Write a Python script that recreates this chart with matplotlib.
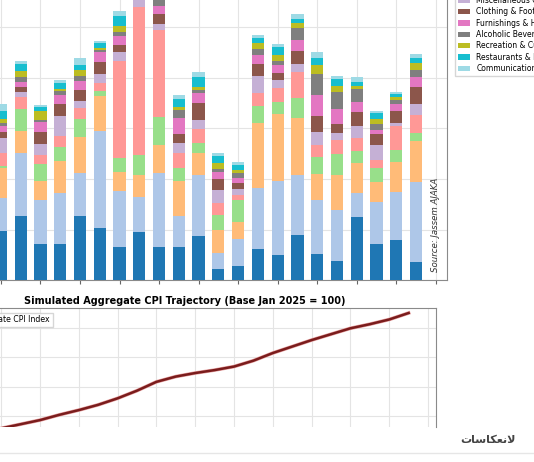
import numpy as np
import matplotlib.pyplot as plt
import matplotlib.patheffects as pe
from matplotlib.lines import Line2D

## categories (stack order, bottom -> top)
categories = ["Food & Non-Alcoholic Beverages", "Housing & Utilities", "Transport", "Health", "Education",
              "Miscellaneous Goods & Services", "Clothing & Footwear", "Furnishings & Household Goods",
              "Alcoholic Beverages & Tobacco", "Recreation & Culture", "Restaurants & Hotels", "Communication"]

## monthly contributions per category (22 visible months)
food = [0.49, 0.63, 0.36, 0.36, 0.63, 0.51, 0.33, 0.48, 0.33, 0.33, 0.44, 0.11, 0.14, 0.31, 0.25, 0.45, 0.26, 0.19, 0.62, 0.36, 0.40, 0.18]
housing = [0.32, 0.63, 0.43, 0.50, 0.43, 0.97, 0.55, 0.34, 0.73, 0.30, 0.60, 0.16, 0.27, 0.60, 0.73, 0.59, 0.53, 0.50, 0.24, 0.41, 0.47, 0.79]
transport = [0.30, 0.22, 0.19, 0.32, 0.36, 0.34, 0.19, 0.22, 0.28, 0.35, 0.22, 0.23, 0.16, 0.64, 0.66, 0.56, 0.26, 0.35, 0.30, 0.20, 0.30, 0.41]
health = [0.02, 0.21, 0.17, 0.14, 0.17, 0.05, 0.14, 0.20, 0.27, 0.13, 0.10, 0.14, 0.22, 0.17, 0.12, 0.20, 0.17, 0.21, 0.12, 0.14, 0.12, 0.08]
education = [0.13, 0.12, 0.09, 0.11, 0.11, 0.08, 0.96, 1.46, 0.87, 0.15, 0.14, 0.12, 0.05, 0.13, 0.14, 0.26, 0.12, 0.14, 0.13, 0.08, 0.23, 0.17]
misc = [0.15, 0.05, 0.11, 0.19, 0.07, 0.09, 0.09, 0.08, 0.05, 0.10, 0.08, 0.13, 0.06, 0.17, 0.08, 0.08, 0.13, 0.07, 0.11, 0.15, 0.03, 0.11]
clothing = [0.06, 0.05, 0.12, 0.12, 0.11, 0.12, 0.07, 0.07, 0.10, 0.09, 0.17, 0.11, 0.06, 0.12, 0.07, 0.13, 0.15, 0.08, 0.14, 0.11, 0.12, 0.17]
furnishings = [0.05, 0.05, 0.09, 0.09, 0.09, 0.10, 0.09, 0.07, 0.08, 0.15, 0.10, 0.07, 0.05, 0.09, 0.08, 0.11, 0.21, 0.15, 0.10, 0.04, 0.07, 0.10]
alcohol = [0.03, 0.05, 0.02, 0.04, 0.05, 0.02, 0.04, 0.05, 0.07, 0.08, 0.03, 0.03, 0.05, 0.06, 0.04, 0.12, 0.21, 0.17, 0.13, 0.05, 0.04, 0.07]
recreation = [0.04, 0.06, 0.09, 0.02, 0.06, 0.02, 0.05, 0.04, 0.04, 0.03, 0.03, 0.06, 0.03, 0.06, 0.06, 0.04, 0.09, 0.06, 0.03, 0.05, 0.03, 0.07]
restaurants = [0.08, 0.07, 0.04, 0.06, 0.05, 0.05, 0.10, 0.08, 0.07, 0.08, 0.10, 0.07, 0.05, 0.05, 0.08, 0.04, 0.07, 0.07, 0.04, 0.06, 0.03, 0.05]
communication = [0.07, 0.03, 0.02, 0.03, 0.07, 0.02, 0.05, 0.04, 0.03, 0.04, 0.05, 0.03, 0.03, 0.03, 0.03, 0.05, 0.06, 0.03, 0.05, 0.02, 0.02, 0.04]

## aggregate CPI index
cpi = [102.9, 103.6, 104.3, 105.2, 106.0, 106.9, 108.0, 109.3, 110.8, 111.7, 112.3,
       112.8, 113.4, 114.4, 115.7, 116.8, 117.9, 118.9, 119.9, 120.6, 121.4, 122.5]

series = [food, housing, transport, health, education, misc, clothing,
          furnishings, alcohol, recreation, restaurants, communication]

W, H = 534, 462
fig = plt.figure(figsize=(W / 100, H / 100), dpi=100)


def px_axes(left, top, right, bottom):
    # pixel box (from top-left) -> figure fraction
    return fig.add_axes([left / W, 1 - bottom / H, (right - left) / W, (bottom - top) / H])


colors = plt.get_cmap('tab20')(np.linspace(0, 1, len(series)))
x = np.arange(len(food))

# --- stacked bars
ax = px_axes(-10.9, -23, 447, 280)
bottom = np.zeros(len(food))
for vals, name, c in zip(series, categories, colors):
    ax.bar(x, vals, width=0.62, bottom=bottom, color=c, label=name, zorder=3)
    bottom += np.array(vals)
ax.set_xlim(-0.6, 22.57)
ax.set_ylim(0, 3.0)
ax.set_xticks(np.arange(0, 23, 2))
ax.set_yticks(np.arange(0, 3.01, 0.5))
ax.grid(True, color='#e4e4e4', linewidth=0.8, zorder=0)
ax.tick_params(axis='x', length=3, color='#666666', labelbottom=False)
ax.tick_params(axis='y', left=False, labelleft=False)
for s in ax.spines.values():
    s.set_color('#8a8a8a')
ax.text(0.974, 0.025, 'Source: Jassem AJAKA', transform=ax.transAxes, rotation=90,
        ha='center', va='bottom', fontsize=6.2, style='italic', color='#333333')
ax.legend(loc='lower left', bbox_to_anchor=(455 / W, 1 - 76 / H), bbox_transform=fig.transFigure,
          fontsize=5.5, labelspacing=0.3, handlelength=1.6, borderaxespad=0,
          frameon=True, edgecolor='#cccccc', fancybox=False)

# --- aggregate line
ax2 = px_axes(-66, 308.3, 436, 427)
ax2.plot(x, cpi, color='#7a1c1c', linewidth=1.8, label='Aggregate CPI Index',
         path_effects=[pe.Stroke(linewidth=2.6, foreground='#e8a3a3'), pe.Normal()])
ax2.set_xlim(-3.46, 22.41)
ax2.set_ylim(103.13, 123.3)
ax2.set_xticks(np.arange(0, 23, 2))
ax2.set_yticks([105, 110, 115, 120])
ax2.grid(True, color='#e4e4e4', linewidth=0.8)
ax2.tick_params(bottom=False, labelbottom=False, left=False, labelleft=False)
ax2.spines['bottom'].set_visible(False)
for s in ax2.spines.values():
    s.set_color('#8a8a8a')
ax2.set_title('Simulated Aggregate CPI Trajectory (Base Jan 2025 = 100)',
              fontsize=7, fontweight='bold', pad=3)
ax2.legend(loc='upper right', bbox_to_anchor=(52.7 / W, 1 - 312.7 / H), bbox_transform=fig.transFigure,
           fontsize=5.6, borderpad=0.35, borderaxespad=0, edgecolor='#cccccc', fancybox=False)

# page caption below the cropped chart (Arabic shaped by hand, visual order)
fig.text(516 / W, 1 - 440 / H, '\ufe95\ufe8e\ufeb3\ufe8e\ufedc\ufecc\ufee7\ufefb',
         ha='right', va='center', fontsize=8, fontweight='bold', color='#444444')
fig.add_artist(Line2D([0, 1], [1 - 453 / H] * 2, color='#e6e6e6', linewidth=1))

fig.savefig('out.png', dpi=100)
